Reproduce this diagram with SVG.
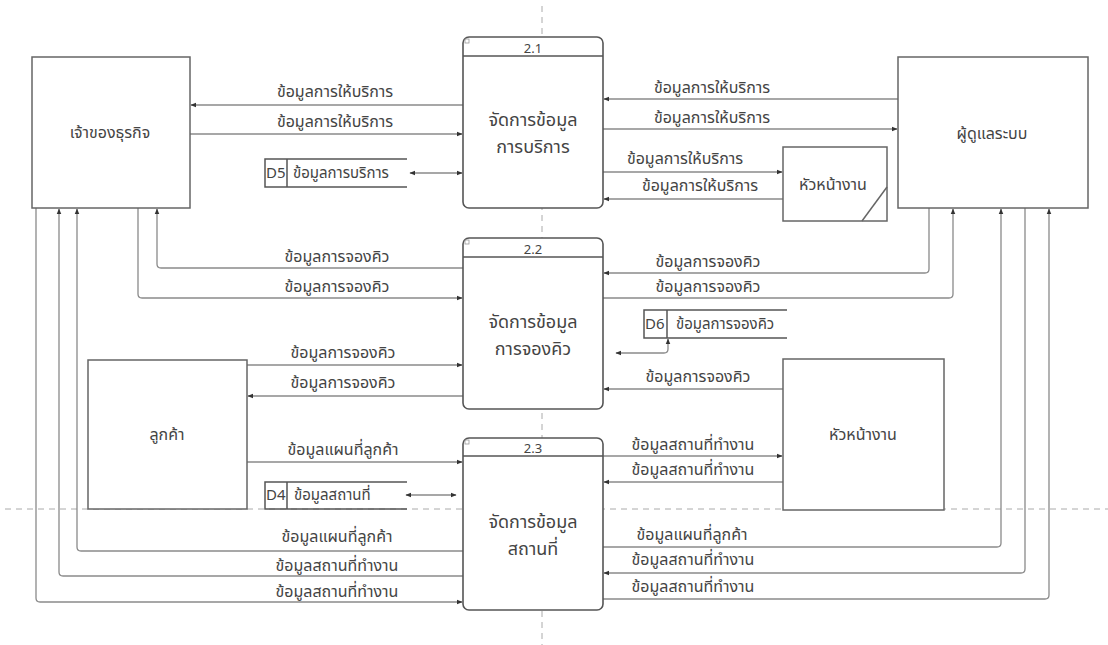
<svg xmlns="http://www.w3.org/2000/svg" width="1108" height="645" viewBox="0 0 1108 645">
<defs>
<marker id="ah" viewBox="0 0 10 10" refX="9" refY="5" markerWidth="6" markerHeight="6" orient="auto-start-reverse" markerUnits="userSpaceOnUse">
<path d="M0,1 L10,5 L0,9 z" fill="#333"/>
</marker>
<style>
.guide{stroke:#aaa;stroke-width:1;stroke-dasharray:6 5;fill:none}
.box{fill:#fff;stroke:#666;stroke-width:1.5}
.proc{fill:#fff;stroke:#555;stroke-width:1.6}
.store{fill:none;stroke:#555;stroke-width:1.5}
.c{fill:none;stroke:#8a8a8a;stroke-width:1.3}
.a{marker-end:url(#ah)}
.b{marker-start:url(#ah);marker-end:url(#ah)}
text{font-family:"Noto Sans Thai","Tahoma","Loma","Noto Sans",sans-serif;fill:#444}
.lbl{font-size:16px;text-anchor:middle}
.ent{font-size:16px;text-anchor:middle}
.pt{font-size:18px;text-anchor:middle}
.num{font-size:13px;text-anchor:middle}
.st{font-size:15px}
</style>
</defs>
<rect width="1108" height="645" fill="#fff"/>
<g id="guides">
<line class="guide" x1="542" y1="6" x2="542" y2="645"/>
<line class="guide" x1="5" y1="509" x2="1108" y2="509"/>
</g>

<g id="connectors">
<path class="c a" d="M463,105 H191"/>
<path class="c a" d="M190,134 H462"/>
<path class="c b" d="M410,173 H462"/>
<path class="c a" d="M898,99 H604"/>
<path class="c a" d="M603,129 H897"/>
<path class="c a" d="M603,172 H782"/>
<path class="c a" d="M783,199 H604"/>
<path class="c a" d="M463,268 H161 Q157,268 157,264 V209"/>
<path class="c a" d="M138,208 V294 Q138,298 142,298 H462"/>
<path class="c a" d="M247,365 H462"/>
<path class="c a" d="M463,396 H248"/>
<path class="c a" d="M929,208 V269 Q929,273 925,273 H604"/>
<path class="c a" d="M603,298 H949 Q953,298 953,294 V209"/>
<path class="c b" d="M668,339 V349 Q668,353 664,353 H616"/>
<path class="c a" d="M783,389 H604"/>
<path class="c a" d="M247,462 H462"/>
<path class="c b" d="M406,495 H456"/>
<path class="c a" d="M463,551 H81 Q77,551 77,547 V209"/>
<path class="c a" d="M463,576 H63 Q59,576 59,572 V209"/>
<path class="c a" d="M36,208 V598 Q36,602 40,602 H462"/>
<path class="c a" d="M603,456 H782"/>
<path class="c a" d="M783,482 H604"/>
<path class="c a" d="M603,547 H997 Q1001,547 1001,543 V209"/>
<path class="c a" d="M1025,208 V569 Q1025,573 1021,573 H604"/>
<path class="c a" d="M603,599 H1045 Q1049,599 1049,595 V209"/>
</g>

<g id="labels">
<text class="lbl" x="335" y="97">ข้อมูลการให้บริการ</text>
<text class="lbl" x="335" y="127">ข้อมูลการให้บริการ</text>
<text class="lbl" x="712" y="93">ข้อมูลการให้บริการ</text>
<text class="lbl" x="712" y="123">ข้อมูลการให้บริการ</text>
<text class="lbl" x="685" y="164">ข้อมูลการให้บริการ</text>
<text class="lbl" x="700" y="191">ข้อมูลการให้บริการ</text>
<text class="lbl" x="337" y="262">ข้อมูลการจองคิว</text>
<text class="lbl" x="337" y="292">ข้อมูลการจองคิว</text>
<text class="lbl" x="343" y="358">ข้อมูลการจองคิว</text>
<text class="lbl" x="343" y="388">ข้อมูลการจองคิว</text>
<text class="lbl" x="708" y="267">ข้อมูลการจองคิว</text>
<text class="lbl" x="708" y="292">ข้อมูลการจองคิว</text>
<text class="lbl" x="698" y="382">ข้อมูลการจองคิว</text>
<text class="lbl" x="343" y="455">ข้อมูลแผนที่ลูกค้า</text>
<text class="lbl" x="337" y="542">ข้อมูลแผนที่ลูกค้า</text>
<text class="lbl" x="337" y="571">ข้อมูลสถานที่ทำงาน</text>
<text class="lbl" x="337" y="597">ข้อมูลสถานที่ทำงาน</text>
<text class="lbl" x="693" y="450">ข้อมูลสถานที่ทำงาน</text>
<text class="lbl" x="693" y="475">ข้อมูลสถานที่ทำงาน</text>
<text class="lbl" x="692" y="540">ข้อมูลแผนที่ลูกค้า</text>
<text class="lbl" x="693" y="565">ข้อมูลสถานที่ทำงาน</text>
<text class="lbl" x="693" y="592">ข้อมูลสถานที่ทำงาน</text>
</g>

<g id="owner">
<rect class="box" x="32" y="57" width="158" height="151"/>
<text class="ent" x="110" y="138">เจ้าของธุรกิจ</text>
</g>
<g id="admin">
<rect class="box" x="898" y="57" width="190" height="151"/>
<text class="ent" x="992" y="139">ผู้ดูแลระบบ</text>
</g>
<g id="customer">
<rect class="box" x="88" y="360" width="159" height="149"/>
<text class="ent" x="167" y="440">ลูกค้า</text>
</g>
<g id="supervisor1">
<rect class="box" x="783" y="147" width="104" height="74"/>
<line x1="887" y1="187" x2="862" y2="221" stroke="#666" stroke-width="1.5"/>
<text class="ent" x="833" y="190">หัวหน้างาน</text>
</g>
<g id="supervisor2">
<rect class="box" x="783" y="359" width="161" height="151"/>
<text class="ent" x="863" y="440">หัวหน้างาน</text>
</g>

<g id="p21">
<rect class="proc" x="463" y="37" width="140" height="171" rx="6"/>
<line x1="463" y1="56" x2="603" y2="56" stroke="#555" stroke-width="1.6"/>
<rect x="465" y="39" width="4" height="4" fill="none" stroke="#999" stroke-width="0.8"/>
<text class="num" x="533" y="53">2.1</text>
<text class="pt" x="533" y="126">จัดการข้อมูล</text>
<text class="pt" x="533" y="153">การบริการ</text>
</g>
<g id="p22">
<rect class="proc" x="463" y="238" width="140" height="171" rx="6"/>
<line x1="463" y1="257" x2="603" y2="257" stroke="#555" stroke-width="1.6"/>
<rect x="465" y="240" width="4" height="4" fill="none" stroke="#999" stroke-width="0.8"/>
<text class="num" x="533" y="254">2.2</text>
<text class="pt" x="533" y="328">จัดการข้อมูล</text>
<text class="pt" x="533" y="355">การจองคิว</text>
</g>
<g id="p23">
<rect class="proc" x="463" y="438" width="140" height="172" rx="6"/>
<line x1="463" y1="456" x2="603" y2="456" stroke="#555" stroke-width="1.6"/>
<rect x="465" y="440" width="4" height="4" fill="none" stroke="#999" stroke-width="0.8"/>
<text class="num" x="533" y="453">2.3</text>
<text class="pt" x="533" y="528">จัดการข้อมูล</text>
<text class="pt" x="533" y="555">สถานที่</text>
</g>

<g id="d5">
<path class="store" d="M407,159 H265 V187 H407 M287,159 V187"/>
<text class="st" x="266" y="178">D5</text>
<text class="st" x="293" y="178">ข้อมูลการบริการ</text>
</g>
<g id="d6">
<path class="store" d="M787,310 H644 V338 H787 M667,310 V338"/>
<text class="st" x="645" y="329">D6</text>
<text class="st" x="676" y="329">ข้อมูลการจองคิว</text>
</g>
<g id="d4">
<path class="store" d="M407,482 H265 V509 H407 M287,482 V509"/>
<text class="st" x="266" y="500">D4</text>
<text class="st" x="294" y="500">ข้อมูลสถานที่</text>
</g>
</svg>
